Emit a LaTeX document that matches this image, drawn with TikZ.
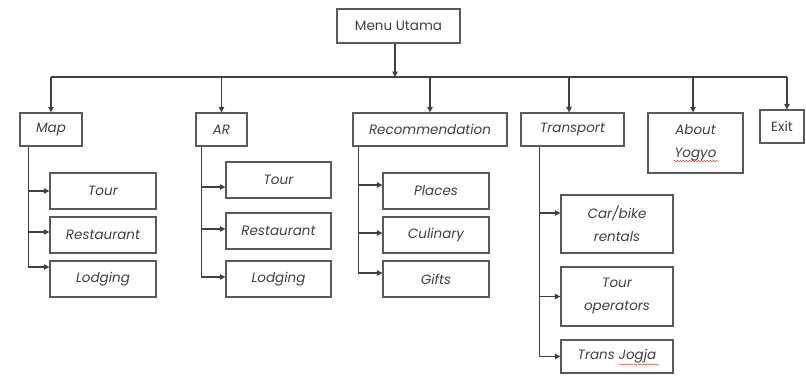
\documentclass[tikz,border=0pt]{standalone}
\usepackage{fontspec}
\setmainfont{Poppins}
\usetikzlibrary{arrows.meta,decorations.pathmorphing}
\definecolor{ink}{HTML}{404040}
\definecolor{edge}{HTML}{5A5A5A}
\begin{document}
\begin{tikzpicture}[x=1pt,y=-1pt,
  box/.style={draw=edge, line width=1.3pt, rectangle, inner sep=0pt,
    align=center, text=ink, font=\fontsize{13.5}{23}\selectfont\itshape},
  plainbox/.style={box, font=\fontsize{13.5}{23}\selectfont},
  conn/.style={draw=ink, line width=1.1pt},
  arr/.style={conn, -{Triangle[length=5.5pt,width=5.5pt]}},
  squiggle/.style={draw=red!75, line width=0.5pt,
    decorate, decoration={snake, amplitude=0.7pt, segment length=3pt}}]
\useasboundingbox (0,0) rectangle (806,381);

% main menu and first level
\node[plainbox, minimum width=123pt, minimum height=34pt] (menu) at (398.5,26) {Menu Utama};
\node[box, minimum width=62pt,  minimum height=33pt] (map)   at (51,129.5)   {Map};
\node[box, minimum width=51pt,  minimum height=33pt] (ar)    at (221.5,129.5) {AR};
\node[box, minimum width=154pt, minimum height=33pt] (rec)   at (430,129.5)  {Recommendation};
\node[box, minimum width=103pt, minimum height=33pt] (trans) at (572.5,129.5) {Transport};
\node[box, minimum width=95pt,  minimum height=60pt] (about) at (695.5,143)   {About\\Yogyo};
\node[plainbox, minimum width=44pt, minimum height=33pt] (exit) at (782,126.5) {Exit};

% Map submenu
\node[box, minimum width=106pt, minimum height=36pt] (tour1) at (103,191) {Tour};
\node[box, minimum width=106pt, minimum height=36pt] (rest1) at (103,235) {Restaurant};
\node[box, minimum width=106pt, minimum height=36pt] (lodg1) at (103,279) {Lodging};

% AR submenu
\node[box, minimum width=105pt, minimum height=36pt] (tour2) at (278.5,180) {Tour};
\node[box, minimum width=105pt, minimum height=36pt] (rest2) at (278.5,231) {Restaurant};
\node[box, minimum width=105pt, minimum height=36pt] (lodg2) at (278.5,279) {Lodging};

% Recommendation submenu
\node[box, minimum width=106pt, minimum height=36pt] (places)   at (436,191) {Places};
\node[box, minimum width=106pt, minimum height=36pt] (culinary) at (436,235) {Culinary};
\node[box, minimum width=106pt, minimum height=36pt] (gifts)    at (436,279) {Gifts};

% Transport submenu
\node[box, minimum width=112pt, minimum height=58pt] (car)    at (617,224)   {Car/bike\\rentals};
\node[box, minimum width=112pt, minimum height=59pt] (tourop) at (617,296.5) {Tour\\operators};
\node[box, minimum width=112pt, minimum height=33pt] (tj)     at (617,356.5) {Trans Jogja};

% spelling marks under place names
\draw[squiggle] ([xshift=-22pt,yshift=-18pt]about.center) -- ([xshift=22pt,yshift=-18pt]about.center);
\draw[squiggle] ([xshift=2pt,yshift=-8pt]tj.center) -- ([xshift=42pt,yshift=-8pt]tj.center);

% distribution bus
\coordinate (bus) at (395,77);
\draw[arr] ([xshift=-3.5pt]menu.south) -- ([xshift=-3.5pt]menu.south |- bus);
\draw[conn] (map.north |- bus) -- ([xshift=5pt]exit.north |- bus);
\draw[arr] (map.north |- bus) -- (map.north);
\draw[arr] (ar.north |- bus) -- (ar.north);
\draw[arr] (rec.north |- bus) -- (rec.north);
\draw[arr] ([xshift=-3.5pt]trans.north |- bus) -- ([xshift=-3.5pt]trans.north);
\draw[arr] ([xshift=-2.5pt]about.north |- bus) -- ([xshift=-2.5pt]about.north);
\draw[arr] ([xshift=5pt]exit.north |- bus) -- ([xshift=5pt]exit.north);

% trunks under each first-level item
\coordinate (mapT)   at ([xshift=9pt]map.south west);
\coordinate (arT)    at ([xshift=6pt]ar.south west);
\coordinate (recT)   at ([xshift=6pt]rec.south west);
\coordinate (transT) at ([xshift=19pt]trans.south west);

% arrow entry points on the submenu boxes
\coordinate (tour1E) at (tour1.west);
\coordinate (rest1E) at ([yshift=3pt]rest1.west);
\coordinate (lodg1E) at ([yshift=12pt]lodg1.west);
\coordinate (tour2E) at ([yshift=-7pt]tour2.west);
\coordinate (rest2E) at ([yshift=2pt]rest2.west);
\coordinate (lodg2E) at ([yshift=2pt]lodg2.west);
\coordinate (placesE) at ([yshift=6pt]places.west);
\coordinate (culinaryE) at ([yshift=2pt]culinary.west);
\coordinate (giftsE) at ([yshift=6pt]gifts.west);
\coordinate (carE) at ([yshift=11pt]car.west);
\coordinate (touropE) at (tourop.west);
\coordinate (tjE) at (tj.west);

% Map branches
\draw[arr] (mapT) |- (lodg1E);
\draw[arr] (mapT |- tour1E) -- (tour1E);
\draw[arr] (mapT |- rest1E) -- (rest1E);

% AR branches
\draw[arr] (arT) |- (lodg2E);
\draw[arr] (arT |- tour2E) -- (tour2E);
\draw[arr] (arT |- rest2E) -- (rest2E);

% Recommendation branches
\draw[arr] (recT) |- (giftsE);
\draw[arr] (recT |- placesE) -- (placesE);
\draw[arr] (recT |- culinaryE) -- (culinaryE);

% Transport branches
\draw[arr] (transT) |- (tjE);
\draw[arr] (transT |- carE) -- (carE);
\draw[arr] (transT |- touropE) -- (touropE);
\end{tikzpicture}
\end{document}
